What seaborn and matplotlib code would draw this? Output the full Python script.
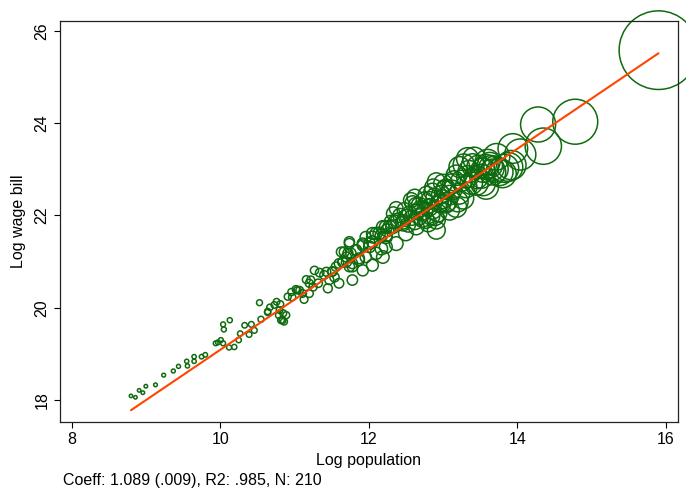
import numpy as np
import pandas as pd
import matplotlib
matplotlib.use("Agg")
import matplotlib.pyplot as plt
import seaborn as sns

# log population / log wage bill per unit
log_pop = [
    8.80, 8.86, 8.91, 8.96, 9.00, 9.13, 9.24, 9.37, 9.44, 9.55, 9.56, 9.65, 9.65, 9.75, 9.80,
    9.94, 9.97, 10.01, 10.04, 10.04, 10.05, 10.13, 10.12, 10.19, 10.25, 10.27, 10.33, 10.42,
    10.39, 10.46, 10.53,
    10.55, 10.64, 10.67, 10.73, 10.76, 10.81, 10.80, 10.79, 10.85, 10.86, 10.82, 10.91, 10.96,
    11.02, 11.07, 10.97, 11.13, 11.16, 11.20, 11.27, 11.25, 11.34, 11.32, 11.40, 11.43, 11.47,
    11.51, 11.54, 11.63, 11.65, 11.70, 11.74, 11.76, 11.78, 11.83, 11.87, 11.92, 11.96, 12.01,
    12.05, 12.10, 12.17, 12.19, 12.23, 12.30, 12.33, 12.37, 12.25,
    15.90, 14.78, 14.28, 14.35, 14.04, 13.92, 13.83, 13.72, 13.63, 13.67, 13.60, 13.54, 13.54,
    13.45, 13.40, 13.33, 13.31, 13.22, 13.22, 13.18, 13.13, 13.09, 13.04, 13.00, 12.95, 12.91,
    12.89, 12.86, 12.82, 12.75, 12.68, 12.64, 12.57, 12.50, 12.46, 12.39, 12.32, 12.23, 12.17,
    12.05,
    13.94, 13.76, 13.65, 13.42, 13.33, 13.27, 13.18, 13.09, 12.98, 12.89, 12.82, 12.75, 12.68,
    12.62, 12.91, 12.80, 12.64, 13.45, 13.58, 13.04,
    12.59, 12.55, 12.46, 12.35, 12.28, 12.23, 12.14, 12.05, 12.01, 11.92, 11.83, 11.74, 11.72,
    11.65, 11.56, 11.51, 11.74, 11.87, 11.96, 12.10, 12.23, 12.37, 12.50, 12.64, 12.77, 12.86,
    12.91, 11.60, 11.78, 11.92, 12.05, 12.19,
    10.64, 10.89, 10.84, 11.04, 11.11, 11.22, 11.20, 11.45, 11.60, 11.70, 11.78, 11.67,
    12.42, 12.48, 12.53, 12.58, 12.62, 12.70, 12.72, 12.78, 12.84, 12.87, 12.93, 12.97, 13.00,
    13.03, 13.06, 13.12, 13.15, 13.20, 13.25, 13.28, 13.35, 13.38, 13.48, 13.52, 13.58, 13.70,
    13.80, 13.88,
]
log_wage = [
    18.09, 18.06, 18.21, 18.16, 18.30, 18.33, 18.54, 18.63, 18.73, 18.84, 18.74, 18.94, 18.84,
    18.94, 18.98, 19.23, 19.25, 19.30, 19.23, 19.64, 19.53, 19.73, 19.14, 19.15, 19.30, 19.44,
    19.62, 19.64, 19.42, 19.51, 20.11,
    19.75, 19.90, 20.01, 20.06, 20.13, 20.08, 19.95, 19.84, 19.88, 19.70, 19.73, 20.24, 20.34,
    20.40, 20.38, 20.23, 20.18, 20.61, 20.53, 20.81, 20.45, 20.76, 20.53, 20.71, 20.78, 20.60,
    20.79, 20.66, 21.21, 20.99, 21.10, 21.43, 21.18, 20.96, 21.25, 21.07, 21.39, 21.53, 21.32,
    21.43, 21.61, 21.28, 21.75, 21.53, 21.86, 22.04, 22.15, 21.68,
    25.58, 24.03, 23.97, 23.50, 23.32, 23.09, 23.02, 23.27, 23.09, 22.94, 23.16, 22.69, 22.98,
    22.83, 23.09, 23.23, 22.62, 23.05, 22.47, 22.87, 22.69, 22.44, 22.26, 22.69, 22.26, 22.73,
    21.97, 22.51, 22.33, 22.33, 22.22, 22.08, 22.33, 21.97, 21.86, 21.90, 21.75, 21.75, 21.57,
    21.61,
    23.45, 22.94, 23.02, 23.23, 22.84, 22.37, 22.18, 22.11, 22.26, 22.40, 22.18, 22.08, 21.97,
    21.86, 21.90, 21.83, 22.22, 22.69, 22.62, 22.58,
    22.26, 22.04, 21.82, 21.86, 21.75, 21.57, 21.61, 21.53, 21.39, 21.35, 21.25, 21.39, 21.18,
    20.99, 20.89, 20.78, 20.89, 21.03, 21.10, 21.18, 21.32, 21.39, 21.61, 21.75, 21.90, 22.11,
    21.68, 20.53, 20.60, 20.81, 20.92, 21.10,
    19.92, 19.84, 19.73, 20.38, 20.31, 20.60, 20.31, 20.42, 20.96, 20.99, 20.89, 21.21,
    22.00, 22.12, 21.80, 21.95, 22.40, 22.15, 21.92, 22.45, 21.98, 22.60, 22.05, 22.45, 22.35,
    22.55, 22.30, 22.55, 22.75, 22.30, 22.75, 23.10, 22.95, 22.70, 23.05, 22.85, 23.05, 23.00,
    22.90, 23.05,
]

# weighted fit reported in the note
coef = 1.089
intercept = 8.197
note = "Coeff: 1.089 (.009), R2: .985, N: 210"

df = pd.DataFrame({"log_pop": log_pop, "log_wage": log_wage})
df["pop"] = np.exp(df["log_pop"])   # marker area ~ population weight

sns.set_style("white")
plt.rcParams["font.family"] = ["Liberation Sans", "DejaVu Sans"]
plt.rcParams.update({"text.color": "black", "axes.labelcolor": "black",
                     "xtick.color": "black", "ytick.color": "black"})

fig = plt.figure(figsize=(6.86, 4.91), dpi=100)
ax = fig.add_axes([0.0875, 0.141, 0.9005, 0.817])

sns.scatterplot(data=df, x="log_pop", y="log_wage", size="pop",
                sizes=(6, 3204), size_norm=(df["pop"].min(), df["pop"].max()),
                facecolor="none", edgecolor="#0f6b0f", linewidth=1.1,
                legend=False, ax=ax, clip_on=False)

xs = np.array([df["log_pop"].min(), df["log_pop"].max()])
ax.plot(xs, intercept + coef * xs, color="#FF4500", lw=1.5, zorder=3)

ax.set_xlim(7.845, 16.16)
ax.set_ylim(17.53, 26.22)
ax.set_xticks([8, 10, 12, 14, 16])
ax.set_yticks([18, 20, 22, 24, 26])
ax.tick_params(axis="both", direction="out", length=4, width=0.8, labelsize=11.5,
               bottom=True, left=True, color="black")
for lab in ax.get_yticklabels():
    lab.set_rotation(90)
    lab.set_va("center")
for sp in ax.spines.values():
    sp.set_color("#222222")
    sp.set_linewidth(0.9)

ax.set_xlabel("Log population", fontsize=11.5, labelpad=4)
ax.set_ylabel("Log wage bill", fontsize=11.5, labelpad=6)
fig.text(63 / 686, 1 - 481 / 491, note, fontsize=11.5, va="center", ha="left")

fig.savefig("out.png", dpi=100)
plt.close(fig)
